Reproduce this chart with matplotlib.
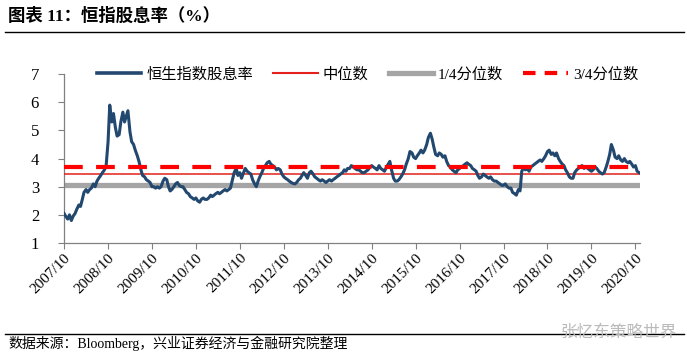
import matplotlib
matplotlib.use("Agg")
import matplotlib.pyplot as plt
from matplotlib.lines import Line2D
import pandas as pd

# semi-monthly readings of the HSI dividend yield, 2007/10 -> 2020/11
yield_values = [
    2.05, 1.95, 1.85, 2.0, 1.8, 1.95,                 # 2007 Q4
    2.05, 2.2, 2.35, 2.3, 2.55, 2.8, 2.9, 2.8, 2.9, 2.95, 3.1, 3.0,
    3.2, 3.3, 3.4, 3.5, 3.6, 3.75, 4.6, 5.9, 5.3, 5.6, 5.1, 4.8,   # 2008
    4.85, 5.3, 5.65, 5.3, 5.5, 5.7, 4.95, 4.6, 4.5, 4.3, 4.1, 3.9,
    3.6, 3.4, 3.35, 3.25, 3.2, 3.15, 3.0, 3.0, 2.95, 3.0, 2.95, 3.0,  # 2009
    3.2, 3.3, 3.25, 3.0, 2.85, 2.9, 3.0, 3.1, 3.15, 3.05, 3.0, 3.0,
    2.9, 2.8, 2.75, 2.65, 2.6, 2.55, 2.6, 2.5, 2.45, 2.55, 2.6, 2.55,  # 2010
    2.55, 2.6, 2.7, 2.65, 2.7, 2.75, 2.8, 2.75, 2.8, 2.85, 2.9, 2.85,
    2.9, 2.95, 3.25, 3.5, 3.65, 3.4, 3.5, 3.3, 3.5, 3.65, 3.55, 3.5,  # 2011
    3.45, 3.25, 3.1, 3.0, 3.2, 3.35, 3.5, 3.65, 3.75, 3.85, 3.9, 3.8,
    3.75, 3.7, 3.6, 3.65, 3.6, 3.45, 3.35, 3.3, 3.25, 3.2, 3.15, 3.12,  # 2012
    3.1, 3.15, 3.25, 3.3, 3.4, 3.5, 3.4, 3.3, 3.5, 3.55, 3.45, 3.35,
    3.3, 3.25, 3.2, 3.25, 3.2, 3.15, 3.2, 3.25, 3.2, 3.25, 3.3, 3.35,  # 2013
    3.4, 3.45, 3.5, 3.6, 3.55, 3.65, 3.65, 3.75, 3.7, 3.65, 3.6, 3.6,
    3.55, 3.5, 3.5, 3.55, 3.6, 3.7, 3.75, 3.7, 3.65, 3.6, 3.75, 3.65,  # 2014
    3.6, 3.55, 3.7, 3.8, 3.9, 3.6, 3.3, 3.2, 3.2, 3.25, 3.35, 3.45,
    3.6, 3.8, 4.0, 4.25, 4.2, 4.05, 4.0, 4.1, 4.2, 4.3, 4.2, 4.3,  # 2015
    4.5, 4.75, 4.9, 4.7, 4.4, 4.15, 4.1, 4.2, 4.15, 4.05, 4.1, 3.9,
    3.75, 3.7, 3.6, 3.55, 3.5, 3.6, 3.65, 3.7, 3.75, 3.8, 3.85, 3.8,  # 2016
    3.75, 3.65, 3.6, 3.55, 3.4, 3.3, 3.35, 3.45, 3.4, 3.35, 3.3, 3.35,
    3.25, 3.2, 3.2, 3.15, 3.1, 3.05, 3.05, 3.1, 3.0, 2.95, 2.95, 2.8,  # 2017
    2.75, 2.7, 2.9, 2.85, 3.55, 3.65, 3.6, 3.65, 3.55, 3.7, 3.75, 3.8,
    3.85, 3.9, 3.95, 3.9, 4.0, 4.1, 4.25, 4.3, 4.15, 4.2, 4.1, 4.2,  # 2018
    4.0, 3.9, 3.8, 3.75, 3.6, 3.5, 3.35, 3.3, 3.3, 3.5, 3.6, 3.65,
    3.7, 3.75, 3.65, 3.7, 3.65, 3.6, 3.55, 3.6, 3.7, 3.65, 3.55, 3.5,  # 2019
    3.45, 3.5, 3.7, 3.9, 4.15, 4.5, 4.3, 4.05, 4.0, 4.1, 3.95, 3.9,
    4.0, 3.9, 3.85, 3.9, 3.8, 3.7, 3.75, 3.55, 3.5,                   # 2020
]
dates = pd.date_range("2007-10-01", periods=len(yield_values), freq="SMS")

median_value = 3.44
q1_value = 3.05
q3_value = 3.71

tick_dates = pd.date_range("2007-10-01", "2020-10-01", freq="12MS")
tick_labels = [d.strftime("%Y/%m") for d in tick_dates]

legend_labels = ["恒生指数股息率", "中位数", "1/4分位数", "3/4分位数"]

NAVY = "#22486F"
RED_THIN = "#E3201B"
RED_DASH = "#FF0000"
GRAY = "#A5A5A5"

plt.rcParams["font.family"] = ["Liberation Serif", "Noto Sans CJK SC"]

fig = plt.figure(figsize=(6.87, 3.60), dpi=100)
ax = fig.add_axes([0.0932, 0.325, 0.8384, 0.469])

ax.plot(dates, yield_values, color=NAVY, linewidth=2.2, zorder=4, solid_joinstyle="round")
ax.axhline(median_value, color=RED_THIN, linewidth=1.1, zorder=3)
ax.axhline(q1_value, color=GRAY, linewidth=3.8, zorder=2)
ax.axhline(q3_value, color=RED_DASH, linewidth=3.0, dashes=(4.5, 3.2), zorder=5)

ax.set_ylim(1, 7)
ax.set_yticks(range(1, 8))
ax.set_xlim(pd.Timestamp("2007-10-01"), pd.Timestamp("2020-11-08"))
ax.set_xticks(tick_dates)
ax.set_xticklabels(tick_labels, rotation=45, ha="right", rotation_mode="anchor")

for side in ("top", "right"):
    ax.spines[side].set_visible(False)
for side in ("left", "bottom"):
    ax.spines[side].set_color("#808080")
    ax.spines[side].set_linewidth(0.9)
ax.tick_params(axis="y", direction="out", length=4, color="#808080", labelsize=12, pad=14)
ax.tick_params(axis="x", direction="out", length=4, color="#808080", labelsize=11, pad=2)

handles = [
    Line2D([], [], color=NAVY, linewidth=2.6),
    Line2D([], [], color=RED_THIN, linewidth=1.5),
    Line2D([], [], color=GRAY, linewidth=3.8),
    Line2D([], [], color=RED_DASH, linewidth=3.0, dashes=(3.0, 2.2)),
]
ax.legend(handles, legend_labels, ncol=4, frameon=False, loc="center",
          bbox_to_anchor=(0.527, 1.0), fontsize=11, handlelength=2.9,
          handletextpad=0.35, columnspacing=1.3)

# title and source
fig.text(0.012, 0.955, "图表 11：恒指股息率（%）", fontsize=12.5, fontweight="bold",
         va="center", ha="left", family=["Liberation Serif", "Noto Sans CJK SC"])
fig.add_artist(Line2D([0.008, 0.995], [0.912, 0.912], color="black", linewidth=1.0))
fig.add_artist(Line2D([0.008, 0.995], [0.073, 0.073], color="black", linewidth=1.0))
fig.text(0.012, 0.045, "数据来源：Bloomberg，兴业证券经济与金融研究院整理", fontsize=10,
         va="center", ha="left")
fig.text(0.985, 0.078, "张忆东策略世界", fontsize=12, color="#BBBBBB",
         va="center", ha="right", family=["Noto Sans CJK SC"])

fig.savefig("out.png", dpi=100)
